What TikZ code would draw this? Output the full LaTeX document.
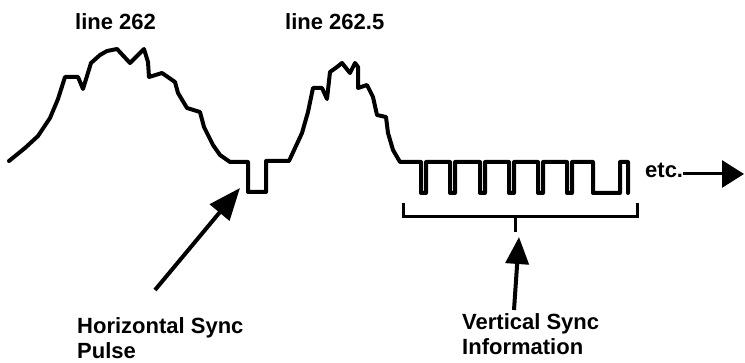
\documentclass[tikz,border=0pt]{standalone}
\usepackage{fontspec}
\setmainfont{Liberation Sans}
\usetikzlibrary{arrows.meta}
\begin{document}
\begin{tikzpicture}[x=1pt,y=-1pt,
  wave/.style={line width=4pt,line join=round,line cap=round},
  bracketline/.style={line width=3pt},
  callout/.style={line width=4pt,-{Triangle[length=32pt,width=25pt]}},
  lbl/.style={font=\fontsize{22}{25}\selectfont\bfseries,inner sep=0pt,align=left}]
\useasboundingbox (0,0) rectangle (745,363);
% waveform
\draw[wave] (9,161) -- (25,148) -- (38,136) -- (50,118) -- (58,99) -- (65,77) -- (78,77) -- (83,89)
  -- (91,63) -- (100,55) -- (107,51) -- (117,49) -- (130,63) -- (144,49) -- (148,62) -- (149,77)
  -- (162,73) -- (175,82) -- (178,93) -- (187,108) -- (200,112) -- (204,127) -- (213,145) -- (220,155)
  -- (230,162) -- (248,162) -- (248,192) -- (266,192) -- (266,161) -- (289,161) -- (302,133)
  -- (308,112) -- (313,88) -- (322,88) -- (327,99) -- (330,72) -- (337,67) -- (342,63) -- (350,73)
  -- (355,63) -- (358,67) -- (358,88) -- (367,85) -- (373,97) -- (377,115) -- (386,117) -- (388,133)
  -- (393,150) -- (400,162)
  \foreach \x in {421,450,480,509,538,567} { -- (\x,162) -- (\x,193) -- (\x+5,193) -- (\x+5,162) }
  -- (593,162) -- (593,193) -- (620,193) -- (620,162) -- (628,162) -- (628,193);
% bracket
\draw[bracketline] (403,203) -- (403,217) -- (637,217) -- (637,203);
\coordinate (tickTop) at (515,217);
\coordinate (tickBot) at (515,232);
\draw[bracketline] (tickTop) -- (tickBot);
% labels
\node[lbl,anchor=base west] (l262) at (75,30) {line 262};
\node[lbl,anchor=base west] (l2625) at (285,30) {line 262.5};
\node[lbl,anchor=base west] (etc) at (645,178) {etc.};
\node[lbl,anchor=north west] (hsync) at (77,317) {Horizontal Sync\\Pulse};
\node[lbl,anchor=north west] (vsync) at (462,313) {Vertical Sync\\Information};
% arrows
\coordinate (hTail) at (155,290);
\coordinate (hTip) at (240,188);
\draw[callout] (hTail) -- (hTip);
\coordinate (vTail) at (514,310);
\coordinate (vTip) at (519,237);
\draw[line width=4pt,-{Triangle[length=27pt,width=23pt]}] (vTail) -- (vTip);
\coordinate (eTip) at (744,174);
\draw[line width=3pt,-{Triangle[length=22pt,width=27pt]}] (etc.east |- eTip) -- (eTip);
\end{tikzpicture}
\end{document}
